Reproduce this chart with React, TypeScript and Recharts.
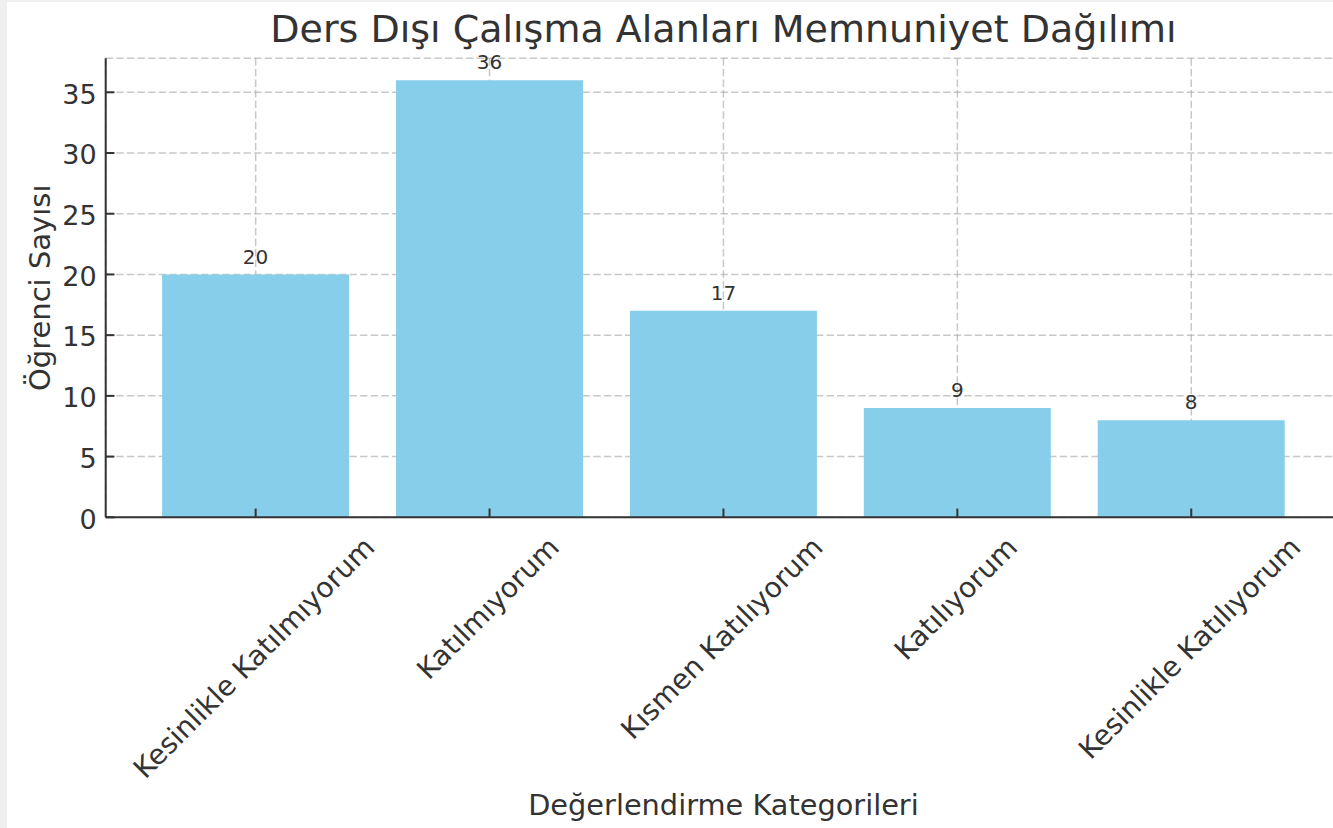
import React from "react";
import { BarChart, Bar, XAxis, YAxis, CartesianGrid, LabelList, Label } from "recharts";

// survey answers
const categories = [
  "Kesinlikle Katılmıyorum",
  "Katılmıyorum",
  "Kısmen Katılıyorum",
  "Katılıyorum",
  "Kesinlikle Katılıyorum",
];
const studentCounts = [20, 36, 17, 9, 8];
const yTicks = [0, 5, 10, 15, 20, 25, 30, 35];

const TITLE = "Ders Dışı Çalışma Alanları Memnuniyet Dağılımı";
const X_LABEL = "Değerlendirme Kategorileri";
const Y_LABEL = "Öğrenci Sayısı";

const FONT = '"DejaVu Sans", sans-serif';
const INK = "#333333";
const TICK_FS = 27;
const XTICK_FS = 28;

const data = categories.map((name, i) => ({ name, count: studentCounts[i] }));

let ctx: CanvasRenderingContext2D | null = null;
function textWidth(s: string, fs: number) {
  if (!ctx) ctx = document.createElement("canvas").getContext("2d");
  if (!ctx) return s.length * fs * 0.55;
  ctx.font = `${fs}px "DejaVu Sans"`;
  return ctx.measureText(s).width;
}

function YTick(props: any) {
  const { x, y, payload } = props;
  const ax = x + 9;
  return (
    <g>
      <line x1={ax} x2={ax + 8.75} y1={y} y2={y} stroke={INK} strokeWidth={2} />
      <text x={x} y={y + 11.2} textAnchor="end" fontSize={TICK_FS} fontFamily={FONT} fill={INK}>
        {payload.value}
      </text>
    </g>
  );
}

function XTick(props: any) {
  const { x, y, payload } = props;
  const L = textWidth(payload.value, XTICK_FS);
  const half = ((L + XTICK_FS) * Math.SQRT1_2) / 2;
  const cx = x - 1.5;
  const cy = y + 15 + half;
  return (
    <g>
      <line x1={x} x2={x} y1={y} y2={y - 8.75} stroke={INK} strokeWidth={2} />
      <text
        x={cx}
        y={cy}
        textAnchor="middle"
        dominantBaseline="central"
        transform={`rotate(-45 ${cx} ${cy})`}
        fontSize={XTICK_FS}
        fontFamily={FONT}
        fill={INK}
      >
        {payload.value}
      </text>
    </g>
  );
}

function BarValue(p: any) {
  const x = Number(p.x) + Number(p.width) / 2;
  const y = Number(p.y) - 10.8;
  return (
    <text x={x} y={y} textAnchor="middle" fontSize={20} fontFamily={FONT} fill={INK}>
      {p.value}
    </text>
  );
}

export default function App() {
  const W = 1345;
  const H = 826;
  return (
    <div style={{ position: "absolute", left: 0, top: 0, width: 1333, height: 828, background: "#efefef", overflow: "hidden" }}>
      <div style={{ position: "absolute", left: 7, top: 2, width: 1326, height: 826, background: "#fff", overflow: "hidden" }}>
        <BarChart
          width={W}
          height={H}
          data={data}
          margin={{ top: 56.3, right: 10.8, bottom: 10.7, left: 38.7 }}
          barCategoryGap="10%"
        >
          <XAxis
            dataKey="name"
            type="category"
            padding={{ left: 33, right: 33 }}
            height={300}
            interval={0}
            tickSize={0}
            tickMargin={0}
            tickLine={false}
            tick={<XTick />}
            axisLine={{ stroke: INK, strokeWidth: 2 }}
          >
            <Label
              content={(p: any) => {
                const vb = p.viewBox;
                return (
                  <text x={vb.x + vb.width / 2} y={vb.y + 297.7} textAnchor="middle" fontSize={28.8} fontFamily={FONT} fill={INK}>
                    {X_LABEL}
                  </text>
                );
              }}
            />
          </XAxis>
          <YAxis
            type="number"
            domain={[0, 37.8]}
            ticks={yTicks}
            width={60}
            tickSize={0}
            tickMargin={9}
            tickLine={false}
            tick={<YTick />}
            axisLine={{ stroke: INK, strokeWidth: 2 }}
            allowDataOverflow
          >
            <Label
              content={(p: any) => {
                const vb = p.viewBox;
                const cx = 43;
                const cy = vb.y + vb.height / 2;
                return (
                  <text x={cx} y={cy} textAnchor="middle" transform={`rotate(-90 ${cx} ${cy})`} fontSize={29} fontFamily={FONT} fill={INK}>
                    {Y_LABEL}
                  </text>
                );
              }}
            />
          </YAxis>
          <Bar dataKey="count" fill="#87CEEB" isAnimationActive={false}>
            <LabelList dataKey="count" content={BarValue} />
          </Bar>
          <CartesianGrid stroke="#b0b0b0" strokeOpacity={0.7} strokeWidth={1.5} strokeDasharray="7.4 3.2" />
        </BarChart>
        <svg style={{ position: "absolute", left: 0, top: 0, pointerEvents: "none" }} width={1326} height={80}>
          <text x={716.45} y={40} textAnchor="middle" fontSize={38} fontFamily={FONT} fill={INK}>
            {TITLE}
          </text>
        </svg>
      </div>
    </div>
  );
}
